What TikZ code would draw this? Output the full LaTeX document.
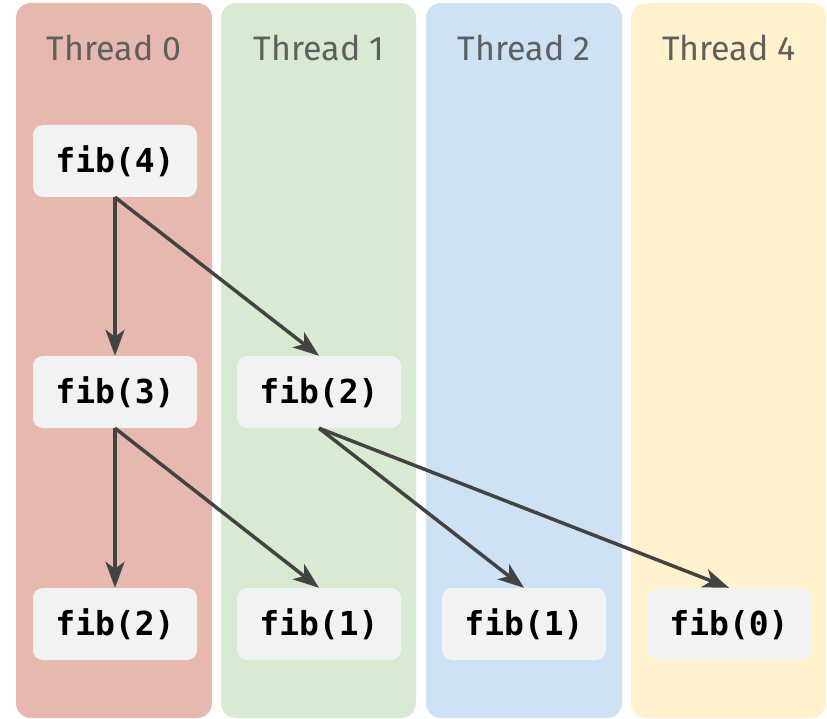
\documentclass[tikz,border=0pt]{standalone}
\usepackage{fontspec}
\usetikzlibrary{arrows.meta}
\newfontfamily\headfont{Fira Sans}
\newfontfamily\callfont{DejaVu Sans Mono}
\definecolor{lanered}{HTML}{E6B8AF}
\definecolor{lanegreen}{HTML}{D9EAD3}
\definecolor{laneblue}{HTML}{CFE2F3}
\definecolor{laneyellow}{HTML}{FFF2CC}
\definecolor{callgray}{HTML}{F2F2F2}
\definecolor{headgray}{HTML}{5F5F5F}
\definecolor{arrowgray}{HTML}{434343}

\begin{document}
\begin{tikzpicture}[x=1pt, y=-1pt,
    lane/.style={rounded corners=15pt},
    head/.style={text=headgray, anchor=base, font=\headfont\fontsize{34}{40}\selectfont},
    call/.style={fill=callgray, rounded corners=10pt, minimum width=164pt, minimum height=72pt, font=\callfont\bfseries\fontsize{33}{38}\selectfont},
    spawn/.style={draw=arrowgray, line width=3.5pt, -{Stealth[length=26pt, width=19pt, inset=7pt]}}]
    \useasboundingbox (0, 0) rectangle (827, 719);
    % thread lanes
    \fill [lane, lanered] (16, 3) rectangle (212, 718);
    \fill [lane, lanegreen] (221, 3) rectangle (416, 718);
    \fill [lane, laneblue] (426, 3) rectangle (622, 718);
    \fill [lane, laneyellow] (631, 3) rectangle (826, 718);
    \node [head] (h0) at (114, 61) {Thread 0};
    \node [head] (h1) at (319, 61) {Thread 1};
    \node [head] (h2) at (524, 61) {Thread 2};
    \node [head] (h4) at (729, 61) {Thread 4};
    % calls
    \node [call] (f4) at (115, 161) {fib(4)};
    \node [call] (f3) at (115, 392) {fib(3)};
    \node [call] (f2a) at (319, 392) {fib(2)};
    \node [call] (f2b) at (115, 624) {fib(2)};
    \node [call] (f1a) at (319, 624) {fib(1)};
    \node [call] (f1b) at (524, 624) {fib(1)};
    \node [call] (f0) at (729, 624) {fib(0)};
    % spawns
    \draw [spawn] (f4.south) -- (f3.north);
    \draw [spawn] (f4.south) -- (f2a.north);
    \draw [spawn] (f3.south) -- (f2b.north);
    \draw [spawn] (f3.south) -- (f1a.north);
    \draw [spawn] (f2a.south) -- (f1b.north);
    \draw [spawn] (f2a.south) -- (f0.north);
\end{tikzpicture}
\end{document}
